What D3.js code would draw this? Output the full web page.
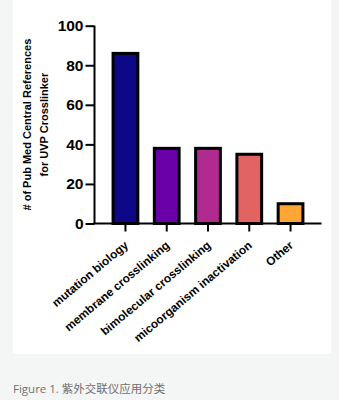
<!DOCTYPE html>
<html>
<head>
<meta charset="utf-8">
<script src="https://cdn.jsdelivr.net/npm/d3@7"></script>
<style>
  html, body { margin: 0; padding: 0; background: #f4f5f5; }
  svg { display: block; }
</style>
</head>
<body>
<svg id="chart" width="339" height="400"></svg>
<script>
const categories = ["mutation biology", "membrane crosslinking", "bimolecular crosslinking", "micoorganism inactivation", "Other"];
const values = [86, 38, 38, 35, 10];
const colors = ["#0d0887", "#6a00a8", "#b12a90", "#e16462", "#fca636"];
const yTicks = [0, 20, 40, 60, 80, 100];
const yLabelLines = ["# of Pub Med Central References", "for UVP Crosslinker"];
const caption = "Figure 1. 紫外交联仪应用分类";

const svg = d3.select("#chart");

// white panel
svg.append("rect").attr("x", 13).attr("y", 0).attr("width", 318).attr("height", 354).attr("fill", "#ffffff");

const x0 = 94.5, x1 = 321.5, yTop = 25.7, yBot = 223.5;

const x = d3.scaleBand().domain(categories).range([x0, x1]).paddingInner(0.4).paddingOuter(0.45);
const y = d3.scaleLinear().domain([0, 100]).range([yBot, yTop]);

// bars
svg.append("g").selectAll("rect").data(categories).join("rect")
  .attr("x", d => x(d))
  .attr("width", x.bandwidth())
  .attr("y", (d, i) => y(values[i]))
  .attr("height", (d, i) => y(0) - y(values[i]))
  .attr("fill", (d, i) => colors[i])
  .attr("stroke", "#000")
  .attr("stroke-width", 3);

// y axis
const yAxis = svg.append("g").attr("transform", `translate(${x0},0)`)
  .call(d3.axisLeft(y).tickValues(yTicks).tickSize(9).tickPadding(2).tickFormat(d3.format("d")));
yAxis.select(".domain").attr("stroke", "#000").attr("stroke-width", 2).attr("d", `M0,${yTop}V${yBot}`);
yAxis.selectAll(".tick line").attr("stroke", "#000").attr("stroke-width", 2);
yAxis.selectAll(".tick text")
  .attr("font-family", "Liberation Sans, Arial, sans-serif")
  .attr("font-weight", "bold").attr("font-size", 15.5).attr("fill", "#000");

// x axis
const xAxis = svg.append("g").attr("transform", `translate(0,${yBot})`)
  .call(d3.axisBottom(x).tickSize(8).tickFormat(""));
xAxis.select(".domain").attr("stroke", "#000").attr("stroke-width", 2).attr("d", `M${x0 - 1},0H${x1}`);
xAxis.selectAll(".tick line").attr("stroke", "#000").attr("stroke-width", 2);

// x labels rotated
svg.append("g").selectAll("text").data(categories).join("text")
  .attr("transform", d => `translate(${x(d) + x.bandwidth() / 2 + 3.5},${yBot + 23}) rotate(-40)`)
  .attr("text-anchor", "end")
  .attr("font-family", "Liberation Sans, Arial, sans-serif")
  .attr("font-weight", "bold").attr("font-size", 11.8).attr("fill", "#000")
  .text(d => d);

// y label
const yMid = (yTop + yBot) / 2;
svg.append("g").selectAll("text").data(yLabelLines).join("text")
  .attr("transform", (d, i) => `translate(${i === 0 ? 31 : 48},${yMid}) rotate(-90)`)
  .attr("text-anchor", "middle")
  .attr("font-family", "Liberation Sans, Arial, sans-serif")
  .attr("font-weight", "bold").attr("font-size", 11).attr("fill", "#000")
  .text(d => d);

// caption
svg.append("text")
  .attr("x", 13).attr("y", 393)
  .attr("font-family", "Open Sans, Noto Sans CJK SC, sans-serif")
  .attr("font-size", 11.5).attr("fill", "#707070")
  .text(caption);
</script>
</body>
</html>
